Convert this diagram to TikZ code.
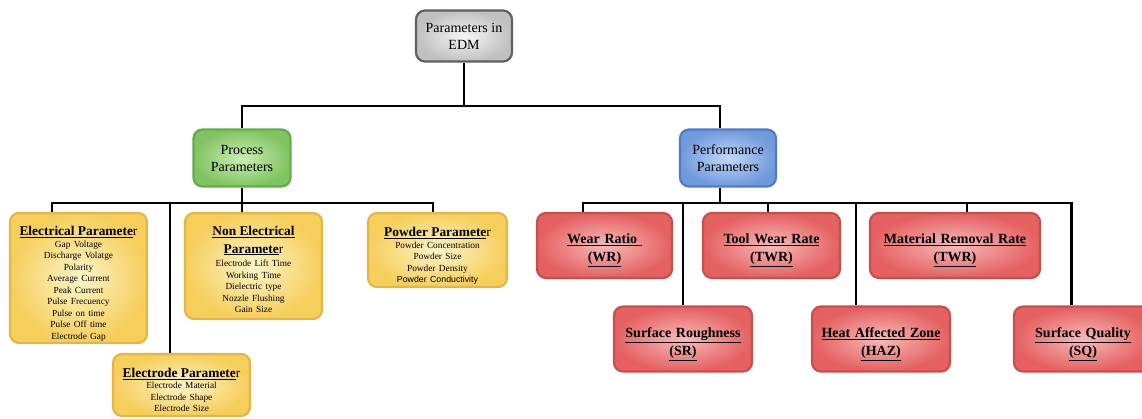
\documentclass[tikz,border=0pt]{standalone}
\usepackage{fontspec}
\setmainfont{Liberation Serif}
\newfontfamily\arialfont{Liberation Sans}
\definecolor{ylin}{RGB}{253,244,200}
\definecolor{ylout}{RGB}{246,206,92}
\definecolor{yldr}{RGB}{226,182,72}
\definecolor{rdin}{RGB}{248,186,186}
\definecolor{rdout}{RGB}{229,96,96}
\definecolor{rddr}{RGB}{198,80,80}
\definecolor{grin}{RGB}{205,236,178}
\definecolor{grout}{RGB}{128,196,98}
\definecolor{grdr}{RGB}{102,170,78}
\definecolor{blin}{RGB}{195,215,246}
\definecolor{blout}{RGB}{112,154,220}
\definecolor{bldr}{RGB}{82,124,192}
\definecolor{gyin}{RGB}{246,246,246}
\definecolor{gyout}{RGB}{192,192,192}
\definecolor{gydr}{RGB}{96,96,96}
\newcommand\yhead[1]{\fontsize{13.4}{15}\selectfont\textbf{\underline{#1}}}
\newcommand\yitems{\fontsize{9.3}{11.5}\selectfont}
\newcommand\lift[1]{\par\vspace{-#1}\nointerlineskip\null}
\pgfdeclarelayer{bg}
\pgfsetlayers{bg,main}
\tikzset{
  conn/.style={line width=2.8pt, black},
  box/.style={rounded corners=9pt, line width=2.2pt, align=center, inner sep=0pt, anchor=center},
  ybox/.style={box, draw=yldr, inner color=ylin, outer color=ylout},
  rbox/.style={box, draw=rddr, inner color=rdin, outer color=rdout, minimum height=65pt,
    font=\fontsize{14}{18}\selectfont\bfseries},
  gbox/.style={box, draw=grdr, inner color=grin, outer color=grout},
  bbox/.style={box, draw=bldr, inner color=blin, outer color=blout},
  graybox/.style={box, draw=gydr, inner color=gyin, outer color=gyout},
  ttxt/.style={font=\fontsize{14}{17}\selectfont},
}
\begin{document}
\begin{tikzpicture}[x={(1pt,0)}, y={(0,-1pt)}]
\useasboundingbox (0,0) rectangle (1142,418);
\clip (0,0) rectangle (1142,418);

% top level
\node[graybox, ttxt, minimum width=96pt, minimum height=51pt] (top) at (464,36)
  {Parameters in\\EDM};
\node[gbox, ttxt, minimum width=97pt, minimum height=57pt] (proc) at (242,158)
  {Process\\Parameters};
\node[bbox, ttxt, minimum width=96pt, minimum height=57pt] (perf) at (728,158)
  {Performance\\Parameters};

% process parameter boxes
\node[ybox, minimum width=137pt, minimum height=130pt, text width=135pt] (elec) at (78.5,278)
  {{\yhead{Electrical Paramete}r\par}
   {\yitems Gap Voltage\par Discharge Volatge\par Polarity\par Average Current\par Peak Current\par Pulse Frecuency\par Pulse on time\par Pulse Off time\par Electrode Gap\par}\lift{12pt}};
\node[ybox, minimum width=137pt, minimum height=106pt, text width=135pt] (nonel) at (253.5,266)
  {{\fontsize{13.4}{17.5}\selectfont\textbf{\underline{Non Electrical}}\par\textbf{\underline{Paramete}}r\par}
   \vspace{2pt}
   {\yitems Electrode Lift Time\par Working Time\par Dielectric type\par Nozzle Flushing\par Gain Size\par}\lift{7pt}};
\node[ybox, minimum width=139pt, minimum height=74pt, text width=137pt] (powd) at (437.5,250)
  {{\yhead{Powder Paramete}r\par}
   {\yitems Powder Concentration\par Powder Size\par Powder Density\par {\arialfont\fontsize{8.8}{11.5}\selectfont Powder Conductivity}\par}\lift{12pt}};
\node[ybox, minimum width=137pt, minimum height=62pt, text width=135pt] (etd) at (181.5,385)
  {{\yhead{Electrode Paramete}r\par}
   {\yitems Electrode Material\par Electrode Shape\par Electrode Size\par}\lift{10pt}};

% performance parameter boxes
\node[rbox, minimum width=135pt, text width=131pt] (wr) at (604.5,245.5) {\underline{Wear Ratio\ }\\\underline{(WR)}\lift{10pt}};
\node[rbox, minimum width=137pt, text width=133pt] (twr) at (771.5,245.5) {\underline{Tool Wear Rate}\\\underline{(TWR)}\lift{10pt}};
\node[rbox, minimum width=170pt, text width=166pt] (mrr) at (955,245.5) {\underline{Material Removal Rate}\\\underline{(TWR)}\lift{10pt}};
\node[rbox, minimum width=138pt, text width=134pt] (sr) at (683,339) {\underline{Surface Roughness}\\\underline{(SR)}\lift{10pt}};
\node[rbox, minimum width=138pt, text width=134pt] (haz) at (881,339) {\underline{Heat Affected Zone}\\\underline{(HAZ)}\lift{10pt}};
\node[rbox, minimum width=138pt, text width=134pt] (sq) at (1083,339) {\underline{Surface Quality}\\\underline{(SQ)}\lift{10pt}};

\coordinate (bus1) at (464,106);
\coordinate (bus2) at (242,203);
\coordinate (bus3) at (720,203);

\begin{pgfonlayer}{bg}
\draw[conn] (top.south) -- (bus1);
\draw[conn] (proc.north) |- (bus1) -| ([xshift=-8pt]perf.north);
% left
\draw[conn] (proc.south) -- (bus2);
\draw[conn] ([xshift=-26.5pt]elec.north) |- (bus2) -| ([xshift=-4.5pt]powd.north);
\draw[conn] (nonel.north -| bus2) -- (bus2);
\draw[conn] ([xshift=-11.5pt]etd.north) -- ([xshift=-11.5pt]etd.north |- bus2);
% right
\draw[conn] ([xshift=-8pt]perf.south) -- (bus3);
\draw[conn] ([xshift=-21.5pt]wr.north) |- (bus3) -| ([xshift=-11.5pt]sq.north);
\draw[conn] ([xshift=-3.5pt]twr.north) -- ([xshift=-3.5pt]twr.north |- bus3);
\draw[conn] ([xshift=12pt]mrr.north) -- ([xshift=12pt]mrr.north |- bus3);
\draw[conn] (sr.north) -- (sr.north |- bus3);
\draw[conn] ([xshift=-25pt]haz.north) -- ([xshift=-25pt]haz.north |- bus3);
\end{pgfonlayer}
\end{tikzpicture}
\end{document}
